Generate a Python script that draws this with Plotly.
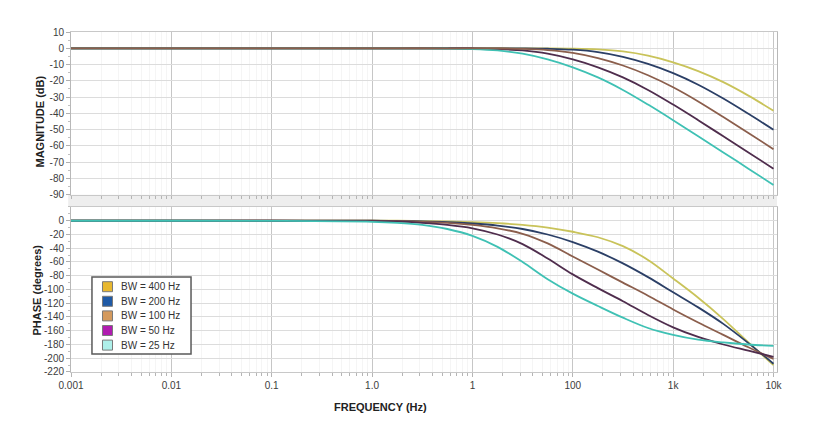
import plotly.graph_objects as go
from plotly.subplots import make_subplots

# ---------------- data ----------------
FREQ_HZ = [0.001, 0.01, 0.1, 1, 1.78, 3.16, 5.62, 10, 17.8, 31.6, 56.2, 100, 178, 316, 562,
           1000, 1778, 3162, 5623, 10000]

BW_LABELS = ["BW = 400 Hz", "BW = 200 Hz", "BW = 100 Hz", "BW = 50 Hz", "BW = 25 Hz"]

MAG_400 = [0, 0, 0, 0, 0, 0, 0, 0, 0, -0.02, -0.08, -0.24, -0.72, -1.97, -4.55,
           -8.64, -14.0, -20.8, -29.1, -38.4]
MAG_200 = [0, 0, 0, 0, 0, 0, 0, -0.01, -0.03, -0.1, -0.3, -0.89, -2.37, -5.26, -9.61,
           -15.3, -22.4, -30.9, -40.3, -50.1]
MAG_100 = [0, 0, 0, 0, 0, 0, -0.01, -0.04, -0.12, -0.37, -1.09, -2.83, -6.03, -10.6, -16.6,
           -24.0, -32.7, -42.3, -52.1, -62.0]
MAG_50 = [0, 0, 0, 0, 0, 0, -0.05, -0.15, -0.47, -1.34, -3.34, -6.84, -11.7, -17.9, -25.6,
          -34.6, -44.2, -54.1, -64.0, -74.0]
MAG_25 = [0, 0, 0, 0, 0, -0.05, -0.15, -0.47, -1.34, -3.34, -6.84, -11.7, -17.9, -25.6, -34.6,
          -44.2, -54.1, -64.0, -74.0, -84.0]

PH_400 = [0, 0, 0, 0, 0, -0.6, -1.1, -2, -3.5, -6, -10, -16, -24, -37, -57,
          -84, -112, -143, -177, -210]
PH_200 = [0, 0, 0, 0, -0.5, -1, -2, -4, -7, -12, -20, -31, -45, -62, -82,
          -104, -126, -150, -178, -208]
PH_100 = [0, 0, 0, 0, -0.7, -1.5, -3, -6, -11, -19, -33, -52, -71, -90, -109,
          -129, -148, -166, -184, -201]
PH_50 = [0, 0, 0, -0.5, -1, -3, -6, -11, -20, -34, -55, -78, -98, -117, -137,
         -155, -169, -180, -189, -198]
PH_25 = [0, 0, -0.2, -1.5, -3, -6, -12, -22, -38, -60, -85, -106, -124, -141, -156,
         -166, -173, -177, -180, -182]

X_TICKVALS = [0.001, 0.01, 0.1, 1, 10, 100, 1000, 10000]
X_TICKTEXT = ["0.001", "0.01", "0.1", "1.0", "1", "100", "1k", "10k"]

MAG_TICKS = [10, 0, -10, -20, -30, -40, -50, -60, -70, -80, -90]
PH_TICKS = [0, -20, -40, -60, -80, -100, -120, -140, -160, -180, -200, -220]

LINE_COLORS = ["#c9c35a", "#2b3f66", "#8b5e4c", "#4f2d4d", "#3fc1b4"]
SWATCH_COLORS = ["#e8b830", "#1f5aa6", "#d49a5e", "#b01cb0", "#aef0ea"]

MAGS = [MAG_400, MAG_200, MAG_100, MAG_50, MAG_25]
PHASES = [PH_400, PH_200, PH_100, PH_50, PH_25]

# ---------------- figure ----------------
fig = make_subplots(rows=2, cols=1, shared_xaxes=True)

MAG_DOMAIN = [0.5215, 1.0]
PH_DOMAIN = [0.0, 0.4853]

mag_order = [0, 1, 3, 4, 2]
for i in mag_order:
    fig.add_trace(go.Scatter(x=FREQ_HZ, y=MAGS[i], mode="lines", name=BW_LABELS[i],
                             line=dict(color=LINE_COLORS[i], width=1.8, shape="spline", smoothing=1.0),
                             showlegend=False, hoverinfo="skip"), row=1, col=1)
for i in range(5):
    fig.add_trace(go.Scatter(x=FREQ_HZ, y=PHASES[i], mode="lines", name=BW_LABELS[i],
                             line=dict(color=LINE_COLORS[i], width=1.8, shape="spline", smoothing=1.0),
                             showlegend=False, hoverinfo="skip"), row=2, col=1)

FONT = "Liberation Sans, Arial, sans-serif"
tickfont = dict(family=FONT, size=10, color="#3c3c3c")

xcommon = dict(type="log", range=[-3, 4.035], tickmode="array", tickvals=X_TICKVALS,
               showgrid=True, gridcolor="#c6c6c6", gridwidth=1,
               showline=True, mirror=True, linecolor="#c8c8c8", linewidth=1,
               minor=dict(dtick="D1", showgrid=True, gridcolor="#f5f5f5",
                          ticks="outside", ticklen=3, tickcolor="#b5b5b5"),
               zeroline=False)

fig.update_xaxes(**xcommon, ticktext=[""] * len(X_TICKTEXT), ticks="", row=1, col=1)
fig.update_xaxes(**xcommon, ticktext=X_TICKTEXT, ticks="outside", ticklen=4, tickcolor="#b5b5b5",
                 tickfont=tickfont, row=2, col=1)

fig.update_yaxes(range=[-90, 10], tickmode="array", tickvals=MAG_TICKS,
                 ticktext=[str(v) for v in MAG_TICKS], tickfont=tickfont,
                 showgrid=True, gridcolor="#dcdcdc", zeroline=False,
                 showline=True, mirror=True, linecolor="#b8b8b8",
                 ticks="outside", ticklen=4, tickcolor="#b0b0b0",
                 minor=dict(dtick=5, ticks="outside", ticklen=2, tickcolor="#c0c0c0", showgrid=False),
                 domain=MAG_DOMAIN, row=1, col=1)
fig.update_yaxes(range=[-220, 20], tickmode="array", tickvals=PH_TICKS,
                 ticktext=[str(v) for v in PH_TICKS], tickfont=tickfont,
                 showgrid=True, gridcolor="#dcdcdc", zeroline=False,
                 showline=True, mirror=True, linecolor="#b8b8b8",
                 ticks="outside", ticklen=4, tickcolor="#b0b0b0",
                 minor=dict(dtick=10, ticks="outside", ticklen=2, tickcolor="#c0c0c0", showgrid=False),
                 domain=PH_DOMAIN, row=2, col=1)

# grey band between the panels
fig.add_shape(type="rect", xref="paper", yref="paper", x0=-0.004, x1=1.0,
              y0=PH_DOMAIN[1], y1=MAG_DOMAIN[0], fillcolor="#eeeeee", line=dict(width=0), layer="below")

# axis titles
title_font = dict(family=FONT, size=11, color="#222222")
fig.add_annotation(text="<b>MAGNITUDE (dB)</b>", xref="paper", yref="paper", x=-0.0439, y=0.7368,
                   textangle=-90, showarrow=False, font=title_font, xanchor="center", yanchor="middle")
fig.add_annotation(text="<b>PHASE (degrees)</b>", xref="paper", yref="paper", x=-0.0482, y=0.2426,
                   textangle=-90, showarrow=False, font=title_font, xanchor="center", yanchor="middle")
fig.add_annotation(text="<b>FREQUENCY (Hz)</b>", xref="paper", yref="paper", x=0.439, y=-0.103,
                   showarrow=False, font=title_font, xanchor="center", yanchor="middle")

# legend box (drawn)
LEG_X0, LEG_X1 = 0.0297, 0.170
LEG_Y0, LEG_Y1 = 0.0529, 0.2794
fig.add_shape(type="rect", xref="paper", yref="paper", x0=LEG_X0, x1=LEG_X1, y0=LEG_Y0, y1=LEG_Y1,
              fillcolor="white", line=dict(color="#5a5a5a", width=1.5))
row_step = 14.6 / 340.0
first_row = (372 - 286.7) / 340.0
sq_h = 10 / 340.0
sq_x0, sq_x1 = 0.0446, 0.0588
for k, lab in enumerate(BW_LABELS):
    yc = first_row - k * row_step
    fig.add_shape(type="rect", xref="paper", yref="paper", x0=sq_x0, x1=sq_x1,
                  y0=yc - sq_h / 2, y1=yc + sq_h / 2, fillcolor=SWATCH_COLORS[k],
                  line=dict(color="#7a7a7a", width=1))
    fig.add_annotation(text=lab, xref="paper", yref="paper", x=0.0680, y=yc, showarrow=False,
                       xanchor="left", yanchor="middle",
                       font=dict(family=FONT, size=10, color="#333333"))

fig.update_layout(width=830, height=424, margin=dict(l=71, r=53, t=32, b=52),
                  paper_bgcolor="white", plot_bgcolor="white", showlegend=False)

fig.write_html("out.html")
